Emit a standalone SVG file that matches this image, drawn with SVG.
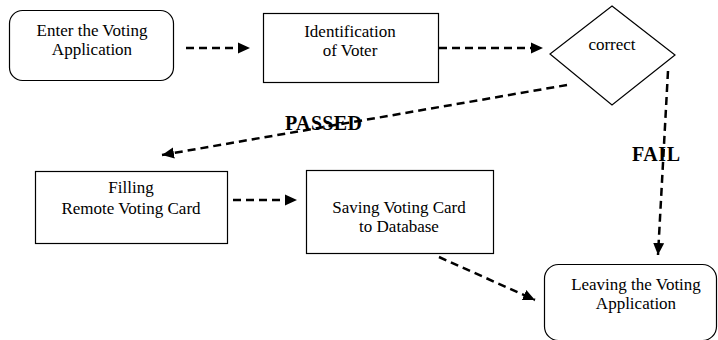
<svg xmlns="http://www.w3.org/2000/svg" width="718" height="340" viewBox="0 0 718 340">
<defs>
<style>
.box{fill:#fff;stroke:#000;stroke-width:1.2}
.t{font-size:17px;fill:#000;text-anchor:middle}
.lbl{font-size:20px;font-weight:bold;fill:#000}
.c{fill:none;stroke:#000;stroke-width:2.5;stroke-dasharray:8 5;marker-end:url(#ah)}
</style>
<marker id="ah" markerUnits="userSpaceOnUse" markerWidth="14" markerHeight="12" refX="12" refY="6" orient="auto">
<path d="M0,0.5 L12,6 L0,11.5 Z" fill="#000"/>
</marker>
</defs>
<rect width="718" height="340" fill="#fff"/>
<g id="connectors">
<line class="c" x1="186" y1="48" x2="250" y2="48"/>
<line class="c" x1="439" y1="48" x2="543" y2="48"/>
<line class="c" x1="567" y1="85" x2="162" y2="155"/>
<line class="c" x1="668" y1="71" x2="658" y2="255"/>
<line class="c" x1="233" y1="200" x2="297" y2="200"/>
<line class="c" x1="439" y1="257" x2="535" y2="300"/>
</g>
<g font-family="Liberation Serif, Times New Roman, DejaVu Serif, serif">
<g id="labels">
<text class="lbl" x="285" y="130" textLength="77">PASSED</text>
<text class="lbl" x="632" y="161" textLength="48">FAIL</text>
</g>
<g id="n1">
<rect class="box" x="9.5" y="10.5" width="164" height="70" rx="13"/>
<text class="t" x="92" y="36">Enter the Voting</text>
<text class="t" x="92" y="55">Application</text>
</g>
<g id="n2">
<rect class="box" x="263.5" y="13.5" width="175" height="69"/>
<text class="t" x="350" y="37">Identification</text>
<text class="t" x="350" y="56">of Voter</text>
</g>
<g id="n3">
<path class="box" d="M612,6 L675,55 L612,105 L550,54 Z"/>
<text class="t" x="612" y="50">correct</text>
</g>
<g id="n4">
<rect class="box" x="35.5" y="171.5" width="192" height="72"/>
<text class="t" x="131" y="193">Filling</text>
<text class="t" x="131" y="214">Remote Voting Card</text>
</g>
<g id="n5">
<rect class="box" x="306.5" y="170.5" width="187" height="83"/>
<text class="t" x="399" y="213">Saving Voting Card</text>
<text class="t" x="399" y="232">to Database</text>
</g>
<g id="n6">
<rect class="box" x="544.5" y="264.5" width="172" height="76" rx="14"/>
<text class="t" x="636" y="290">Leaving the Voting</text>
<text class="t" x="636" y="309">Application</text>
</g>
</g>
</svg>
